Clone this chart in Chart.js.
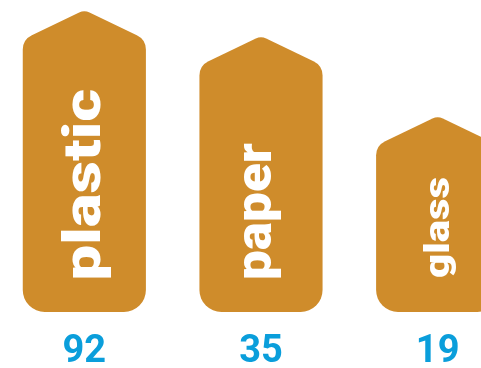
<!DOCTYPE html>
<html>
<head>
<meta charset="utf-8">
<script src="https://cdn.jsdelivr.net/npm/chart.js@4"></script>
<style>
  html, body { margin:0; padding:0; background:#fff; overflow:hidden; }
  .frame { position:relative; width:481px; height:368px; overflow:hidden; }
  .wrap  { position:absolute; left:-4px; top:0; width:530px; height:368px; }
</style>
</head>
<body>
<div class="frame"><div class="wrap"><canvas id="chart"></canvas></div></div>
<script>
// data
const CATEGORIES = ['plastic', 'paper', 'glass'];
const COUNTS     = [92, 35, 19];          // numbers printed under the bars
const LEVELS     = [100, 91.4, 64.9];     // relative bar height (tallest = 100)

const BAR_COLOR  = '#cf8c2b';
const NUM_COLOR  = '#0a9edb';

// per-label text style: font size, stretched length, baseline offset from bar centre
const LABEL_STYLE = [
  { size: 52, len: 188, dx: 16 },
  { size: 50, len: 135, dx: 10 },
  { size: 35, len: 100, dx: 11 }
];

function housePath(ctx, x, top, base, w) {
  const l = x - w/2, r = x + w/2;
  const roof = w * 0.24;
  const sh = top + roof;
  ctx.beginPath();
  ctx.moveTo(l, base - 25);
  ctx.arcTo(l, sh, x, top, 16);
  ctx.arcTo(x, top, r, sh, 12);
  ctx.arcTo(r, sh, r, base, 16);
  ctx.arcTo(r, base, l, base, 22);
  ctx.arcTo(l, base, l, sh, 22);
  ctx.closePath();
}

const housePlugin = {
  id: 'houses',
  afterDatasetsDraw(chart) {
    const ctx = chart.ctx;
    const meta = chart.getDatasetMeta(0);
    meta.data.forEach((bar, i) => {
      ctx.save();
      ctx.fillStyle = BAR_COLOR;
      housePath(ctx, bar.x, bar.y, bar.base, bar.width);
      ctx.fill();

      // rotated label inside
      const st = LABEL_STYLE[i];
      ctx.font = `900 ${st.size}px Roboto`;
      const m = ctx.measureText(CATEGORIES[i]);
      const ink = m.actualBoundingBoxLeft + m.actualBoundingBoxRight;
      const sx = st.len / ink;
      ctx.translate(bar.x + st.dx, bar.base - 34);
      ctx.rotate(-Math.PI/2);
      ctx.scale(sx, 1);
      ctx.fillStyle = '#fff';
      ctx.textAlign = 'left';
      ctx.textBaseline = 'alphabetic';
      ctx.fillText(CATEGORIES[i], m.actualBoundingBoxLeft, 0);
      ctx.restore();

      // count under the bar
      ctx.save();
      ctx.font = 'bold 38px Roboto';
      ctx.fillStyle = NUM_COLOR;
      ctx.textAlign = 'center';
      ctx.textBaseline = 'alphabetic';
      ctx.fillText(String(COUNTS[i]), bar.x, bar.base + 50);
      ctx.restore();
    });
  }
};

new Chart(document.getElementById('chart'), {
  type: 'bar',
  data: {
    labels: CATEGORIES,
    datasets: [{
      data: LEVELS,
      backgroundColor: 'rgba(0,0,0,0)',
      borderWidth: 0,
      barPercentage: 0.697,
      categoryPercentage: 1
    }]
  },
  options: {
    responsive: true,
    maintainAspectRatio: false,
    animation: false,
    layout: { padding: { top: 10, bottom: 56, left: 0, right: 0 } },
    plugins: { legend: { display: false }, tooltip: { enabled: false } },
    scales: {
      x: { display: false },
      y: { display: false, min: 0, max: 100 }
    }
  },
  plugins: [housePlugin]
});
</script>
</body>
</html>
